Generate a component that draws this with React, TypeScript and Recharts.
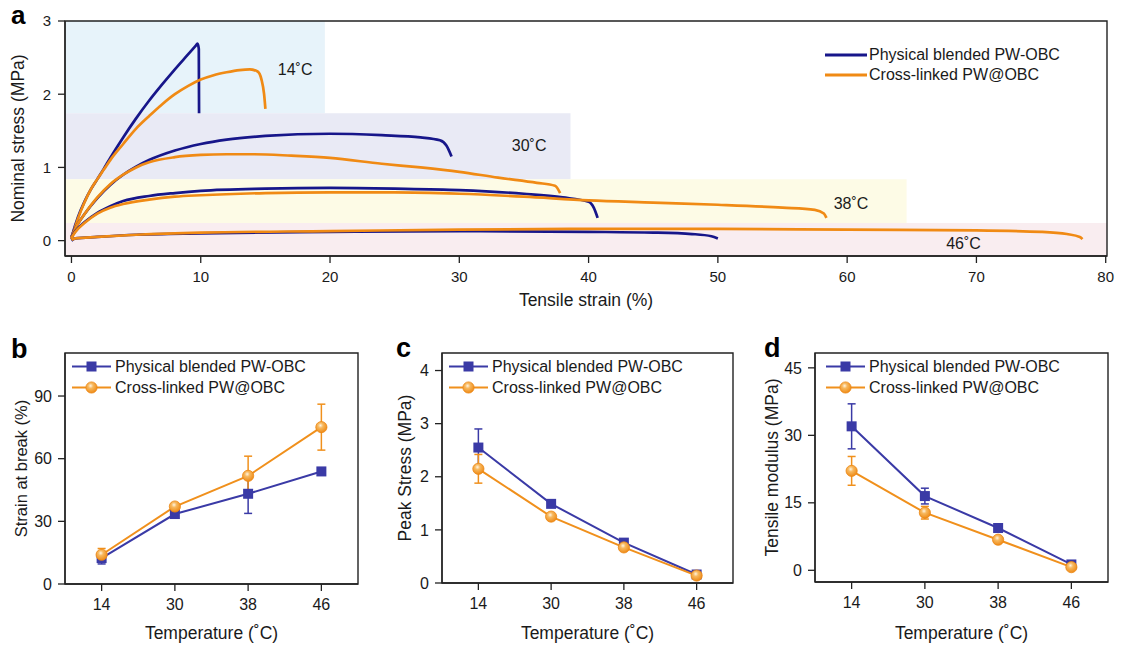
import React from 'react';
import {
  ComposedChart,
  LineChart,
  Line,
  XAxis,
  YAxis,
  ReferenceArea,
  ReferenceDot,
  ErrorBar,
  Legend,
} from 'recharts';

const FONT = '"Liberation Sans", Arial, Helvetica, sans-serif';
const TXT = '#1a1a1a';
const AX = '#222222';
const NAVY = '#17168a';
const ORANGE_A = '#f08a14';
const BLUE = '#3a3aa6';
const ORANGE = '#f0901c';
const NAME_PB = 'Physical blended PW-OBC';
const NAME_CL = 'Cross-linked PW@OBC';
const LEGEND_ORDER = [NAME_PB, NAME_CL];

// ---------- Panel a: stress-strain curves, [strain %, stress MPa] ----------
const pb14 = [[0, 0.02], [0.15, 0.13], [0.5, 0.32], [1, 0.53], [1.5, 0.7], [2, 0.84], [2.5, 0.98], [3, 1.13], [4, 1.41], [5, 1.67], [6, 1.91], [7, 2.13], [8, 2.34], [9, 2.54], [9.6, 2.66], [9.75, 2.69], [9.85, 2.62], [9.87, 1.74]];
const cl14 = [[0, 0.02], [0.15, 0.11], [0.5, 0.3], [1, 0.52], [1.5, 0.7], [2, 0.84], [2.5, 0.97], [3, 1.1], [4, 1.32], [5, 1.53], [6, 1.7], [7, 1.86], [8, 2.0], [9, 2.11], [10, 2.2], [11, 2.26], [12, 2.3], [13, 2.33], [13.8, 2.34], [14.4, 2.31], [14.7, 2.2], [14.9, 2.0], [15.0, 1.8]];
const pb30 = [[0, 0.05], [0.2, 0.14], [0.5, 0.23], [1, 0.36], [2, 0.58], [3, 0.76], [4, 0.9], [5, 1.01], [6, 1.1], [8, 1.23], [10, 1.32], [12, 1.38], [15, 1.43], [20, 1.46], [24, 1.44], [27, 1.41], [28.5, 1.37], [29.0, 1.3], [29.4, 1.15]];
const cl30 = [[0, 0.05], [0.2, 0.13], [0.5, 0.23], [1, 0.36], [2, 0.59], [3, 0.77], [4, 0.9], [5, 1.0], [6, 1.07], [8, 1.14], [10, 1.17], [12, 1.18], [14, 1.18], [17, 1.16], [20, 1.13], [24, 1.05], [27, 1.0], [30, 0.94], [33, 0.86], [36, 0.79], [37.4, 0.75], [37.8, 0.65]];
const pb38 = [[0, 0.05], [0.3, 0.13], [1, 0.25], [2, 0.38], [3, 0.47], [4, 0.54], [6, 0.61], [8, 0.65], [10, 0.68], [15, 0.71], [20, 0.72], [25, 0.71], [30, 0.69], [35, 0.64], [38, 0.59], [40, 0.53], [40.4, 0.45], [40.7, 0.31]];
const cl38 = [[0, 0.04], [0.3, 0.12], [1, 0.24], [2, 0.37], [3, 0.45], [4, 0.5], [6, 0.56], [8, 0.6], [10, 0.62], [15, 0.65], [20, 0.66], [25, 0.66], [30, 0.64], [35, 0.6], [40, 0.55], [45, 0.52], [50, 0.49], [55, 0.45], [57.5, 0.42], [58.2, 0.37], [58.4, 0.31]];
const pb46 = [[0, 0.0], [0.3, 0.03], [2, 0.05], [5, 0.08], [10, 0.1], [20, 0.12], [30, 0.13], [40, 0.12], [45, 0.11], [48, 0.09], [49.5, 0.06], [50, 0.03]];
const cl46 = [[0, 0.01], [0.3, 0.03], [2, 0.05], [5, 0.08], [10, 0.11], [20, 0.13], [30, 0.15], [40, 0.16], [50, 0.16], [60, 0.15], [70, 0.14], [75, 0.12], [77, 0.09], [78, 0.05], [78.2, 0.02]];

const strainDomain = [-0.5, 80.1];
const stressDomain = [-0.21, 3];
const strainTicks = [0, 10, 20, 30, 40, 50, 60, 70, 80];
const stressTicks = [0, 1, 2, 3];

// temperature zones (data units)
const zoneLabels = ['14˚C', '30˚C', '38˚C', '46˚C'];
const zoneStrainEnd = [19.6, 38.6, 64.6, 80.1];
const zoneStressTop = [3, 1.74, 0.84, 0.24];
const zoneStressBottom = [1.74, 0.84, 0.24, -0.21];
const zoneLabelStrain = [17.3, 35.4, 60.3, 69];
const zoneLabelStress = [2.34, 1.3, 0.51, -0.03];
const ZONE_FILLS = ['#e7f3fa', '#e9eaf5', '#fdfbe6', '#f9edf0'];

// ---------- Panels b, c, d ----------
const temperatures = ['14', '30', '38', '46'];
const strainPB = [12.4, 33.5, 43.2, 53.9];
const strainPBErr = [2.8, 1.0, 9.4, 1.5];
const strainCL = [14.0, 37.1, 51.8, 75.1];
const strainCLErr = [3.0, 1.5, 9.4, 11.0];
const stressPB = [2.55, 1.49, 0.76, 0.16];
const stressPBErr = [0.35, 0.05, 0.04, 0.03];
const stressCL = [2.15, 1.25, 0.67, 0.14];
const stressCLErr = [0.27, 0.06, 0.04, 0.03];
const modPB = [32.0, 16.5, 9.4, 1.3];
const modPBErr = [5.0, 1.75, 0.7, 0.3];
const modCL = [22.1, 12.8, 6.8, 0.7];
const modCLErr = [3.2, 1.4, 0.4, 0.2];

const strainTicksB = [0, 30, 60, 90];
const stressTicksC = [0, 1, 2, 3, 4];
const modTicksD = [0, 15, 30, 45];
const tempIndexDomain = [-0.5, 3.5];
const tempIndexTicks = [0, 1, 2, 3];

const toXY = (arr: number[][]) => arr.map(([x, y]) => ({ x, y }));
const rows = (pb: number[], pbE: number[], cl: number[], clE: number[]) =>
  temperatures.map((t, i) => ({ i, t, pb: pb[i], pbErr: pbE[i], cl: cl[i], clErr: clE[i] }));

const curvesA = [
  { data: pb14, name: NAME_PB, color: NAVY },
  { data: cl14, name: NAME_CL, color: ORANGE_A },
  { data: pb30, name: NAME_PB, color: NAVY },
  { data: cl30, name: NAME_CL, color: ORANGE_A },
  { data: pb38, name: NAME_PB, color: NAVY },
  { data: cl38, name: NAME_CL, color: ORANGE_A },
  { data: pb46, name: NAME_PB, color: NAVY },
  { data: cl46, name: NAME_CL, color: ORANGE_A },
];

const uniqueOrdered = (payload: any[] | undefined) => {
  const seen = new Set<string>();
  const list = (payload || []).filter((p) => {
    const v = String(p.value);
    if (seen.has(v)) return false;
    seen.add(v);
    return true;
  });
  return list.sort((a, b) => LEGEND_ORDER.indexOf(String(a.value)) - LEGEND_ORDER.indexOf(String(b.value)));
};

const BallDef = () => (
  <defs>
    <radialGradient id="orangeBall" cx="0.42" cy="0.35" r="0.65">
      <stop offset="0" stopColor="#fff4e0" />
      <stop offset="0.35" stopColor="#f7b85e" />
      <stop offset="1" stopColor="#ee8a16" />
    </radialGradient>
  </defs>
);

const renderSquare = (p: any) => {
  const { cx, cy, index } = p;
  if (cx == null || cy == null) return <g key={`sq-${index}`} />;
  return <rect key={`sq-${index}`} x={cx - 5} y={cy - 5} width={10} height={10} fill={BLUE} />;
};

const renderBall = (p: any) => {
  const { cx, cy, index } = p;
  if (cx == null || cy == null) return <g key={`bl-${index}`} />;
  return (
    <g key={`bl-${index}`}>
      <BallDef />
      <circle cx={cx} cy={cy} r={5.6} fill="url(#orangeBall)" stroke="#ec8712" strokeWidth={0.8} />
    </g>
  );
};

const legendA = (props: any) => {
  const items = uniqueOrdered(props.payload);
  return (
    <div style={{ fontFamily: FONT, fontSize: 16, color: TXT }}>
      {items.map((it: any) => (
        <div key={it.value} style={{ display: 'flex', alignItems: 'center', height: 20 }}>
          <svg width={42} height={20} style={{ display: 'block' }}>
            <line x1={0} y1={10} x2={42} y2={10} stroke={it.color} strokeWidth={3} />
          </svg>
          <span style={{ marginLeft: 2, whiteSpace: 'nowrap', lineHeight: '20px' }}>{it.value}</span>
        </div>
      ))}
    </div>
  );
};

const legendSmall = (props: any) => {
  const items = uniqueOrdered(props.payload);
  return (
    <div style={{ fontFamily: FONT, fontSize: 16, color: TXT }}>
      {items.map((it: any) => {
        const isPB = it.value === NAME_PB;
        return (
          <div key={it.value} style={{ display: 'flex', alignItems: 'center', height: 21 }}>
            <svg width={39} height={21} style={{ display: 'block' }}>
              <line x1={0} y1={10.5} x2={39} y2={10.5} stroke={it.color} strokeWidth={2} />
              {isPB ? (
                <rect x={14.5} y={5.5} width={10} height={10} fill={BLUE} />
              ) : (
                <g>
                  <BallDef />
                  <circle cx={19.5} cy={10.5} r={5.6} fill="url(#orangeBall)" stroke="#ec8712" strokeWidth={0.8} />
                </g>
              )}
            </svg>
            <span style={{ marginLeft: 4, whiteSpace: 'nowrap', lineHeight: '21px' }}>{it.value}</span>
          </div>
        );
      })}
    </div>
  );
};

function PanelA() {
  return (
    <div style={{ position: 'absolute', left: 0, top: 0, width: 1121, height: 320 }}>
      <ComposedChart width={1121} height={320} margin={{ top: 21, right: 14, bottom: 0, left: 0 }}>
        {zoneLabels.map((z, i) => (
          <ReferenceArea
            key={`zone-${z}`}
            x1={strainDomain[0]}
            x2={zoneStrainEnd[i]}
            y1={zoneStressBottom[i]}
            y2={zoneStressTop[i]}
            fill={ZONE_FILLS[i]}
            fillOpacity={1}
            stroke="none"
            ifOverflow="hidden"
          />
        ))}
        <ReferenceArea
          x1={strainDomain[0]}
          x2={strainDomain[1]}
          y1={stressDomain[0]}
          y2={stressDomain[1]}
          fill="none"
          fillOpacity={0}
          stroke={AX}
          strokeWidth={1.4}
          ifOverflow="visible"
        />
        <XAxis
          dataKey="x"
          type="number"
          domain={strainDomain}
          ticks={strainTicks}
          allowDataOverflow
          height={64}
          tickSize={7}
          tickMargin={8}
          stroke={AX}
          strokeWidth={1.3}
          tick={{ fontSize: 15, fill: TXT, fontFamily: FONT }}
          label={{ value: 'Tensile strain (%)', position: 'insideBottom', offset: 14, style: { fontSize: 17.5, fill: TXT, fontFamily: FONT } }}
        />
        <YAxis
          type="number"
          domain={stressDomain}
          ticks={stressTicks}
          allowDataOverflow
          width={65}
          tickSize={7}
          tickMargin={7}
          stroke={AX}
          strokeWidth={1.3}
          tick={{ fontSize: 15, fill: TXT, fontFamily: FONT }}
          label={{ value: 'Nominal stress (MPa)', angle: -90, position: 'insideLeft', offset: 18, style: { textAnchor: 'middle', fontSize: 17.5, fill: TXT, fontFamily: FONT } }}
        />
        {curvesA.map((c, i) => (
          <Line
            key={`curve-${i}`}
            data={toXY(c.data)}
            dataKey="y"
            name={c.name}
            type="monotone"
            stroke={c.color}
            strokeWidth={2.7}
            dot={false}
            activeDot={false}
            isAnimationActive={false}
          />
        ))}
        {zoneLabels.map((z, i) => (
          <ReferenceDot
            key={`zl-${z}`}
            x={zoneLabelStrain[i]}
            y={zoneLabelStress[i]}
            r={0}
            fill="none"
            stroke="none"
            label={{ value: z, position: 'center', style: { fontSize: 16, fill: TXT, fontFamily: FONT } }}
          />
        ))}
        <Legend
          layout="horizontal"
          verticalAlign="middle"
          align="center"
          content={legendA}
          wrapperStyle={{ left: 825, top: 45, width: 260, height: 40 }}
        />
      </ComposedChart>
    </div>
  );
}

type SmallProps = {
  left: number;
  width: number;
  data: any[];
  yDomain: number[];
  yTicks: number[];
  yLabel: string;
  yLabelSize: number;
  yAxisWidth: number;
  marginRight: number;
  xHeight: number;
  yLabelOffset: number;
  legendLeft: number;
};

function SmallPanel(p: SmallProps) {
  const tickStyle = { fontSize: 16, fill: TXT, fontFamily: FONT };
  return (
    <div style={{ position: 'absolute', left: p.left, top: 320, width: p.width, height: 325 }}>
      <LineChart width={p.width} height={325} data={p.data} margin={{ top: 33, right: p.marginRight, bottom: 0, left: 0 }}>
        <ReferenceArea
          x1={tempIndexDomain[0]}
          x2={tempIndexDomain[1]}
          y1={p.yDomain[0]}
          y2={p.yDomain[1]}
          fill="none"
          fillOpacity={0}
          stroke={AX}
          strokeWidth={1.4}
          ifOverflow="visible"
        />
        <XAxis
          dataKey="i"
          type="number"
          domain={tempIndexDomain}
          ticks={tempIndexTicks}
          tickFormatter={(v: number) => temperatures[v] ?? ''}
          allowDataOverflow
          height={p.xHeight}
          tickSize={7}
          tickMargin={8}
          stroke={AX}
          strokeWidth={1.3}
          tick={tickStyle}
          label={{ value: 'Temperature (˚C)', position: 'insideBottom', offset: 6, style: { fontSize: 17.5, fill: TXT, fontFamily: FONT } }}
        />
        <YAxis
          type="number"
          domain={p.yDomain}
          ticks={p.yTicks}
          allowDataOverflow
          width={p.yAxisWidth}
          tickSize={7}
          tickMargin={6}
          stroke={AX}
          strokeWidth={1.3}
          tick={tickStyle}
          label={{ value: p.yLabel, angle: -90, position: 'insideLeft', offset: p.yLabelOffset, style: { textAnchor: 'middle', fontSize: p.yLabelSize, fill: TXT, fontFamily: FONT } }}
        />
        <Line dataKey="pb" name={NAME_PB} type="linear" stroke={BLUE} strokeWidth={2} dot={renderSquare} activeDot={false} isAnimationActive={false}>
          <ErrorBar dataKey="pbErr" width={4} stroke={BLUE} strokeWidth={1.5} direction="y" />
        </Line>
        <Line dataKey="cl" name={NAME_CL} type="linear" stroke={ORANGE} strokeWidth={2} dot={renderBall} activeDot={false} isAnimationActive={false}>
          <ErrorBar dataKey="clErr" width={4} stroke={ORANGE} strokeWidth={1.5} direction="y" />
        </Line>
        <Legend
          layout="horizontal"
          verticalAlign="middle"
          align="center"
          content={legendSmall}
          wrapperStyle={{ left: p.legendLeft, top: 36, width: 260, height: 44 }}
        />
      </LineChart>
    </div>
  );
}

export default function App() {
  return (
    <div style={{ position: 'absolute', left: 0, top: 0, width: 1121, height: 645, background: '#fff', fontFamily: FONT }}>
      <PanelA />
      <SmallPanel
        left={0}
        width={380}
        data={rows(strainPB, strainPBErr, strainCL, strainCLErr)}
        yDomain={[0, 110.6]}
        yTicks={strainTicksB}
        yLabel="Strain at break (%)"
        yLabelSize={16.5}
        yAxisWidth={65}
        marginRight={22}
        xHeight={61}
        yLabelOffset={21}
        legendLeft={72}
      />
      <SmallPanel
        left={370}
        width={380}
        data={rows(stressPB, stressPBErr, stressCL, stressCLErr)}
        yDomain={[0, 4.33]}
        yTicks={stressTicksC}
        yLabel="Peak Stress (MPa)"
        yLabelSize={17.5}
        yAxisWidth={72}
        marginRight={17}
        xHeight={62}
        yLabelOffset={35}
        legendLeft={79}
      />
      <SmallPanel
        left={740}
        width={381}
        data={rows(modPB, modPBErr, modCL, modCLErr)}
        yDomain={[-2.6, 48.3]}
        yTicks={modTicksD}
        yLabel="Tensile modulus (MPa)"
        yLabelSize={17.5}
        yAxisWidth={75}
        marginRight={13}
        xHeight={63}
        yLabelOffset={32}
        legendLeft={86}
      />
      <svg width={1121} height={645} style={{ position: 'absolute', left: 0, top: 0, pointerEvents: 'none' }}>
        <g fontFamily={FONT} fontWeight="bold" fill="#000">
          <text x={11} y={24} fontSize={26}>a</text>
          <text x={11} y={358} fontSize={27}>b</text>
          <text x={396} y={357} fontSize={27}>c</text>
          <text x={764} y={357} fontSize={27}>d</text>
        </g>
      </svg>
    </div>
  );
}
